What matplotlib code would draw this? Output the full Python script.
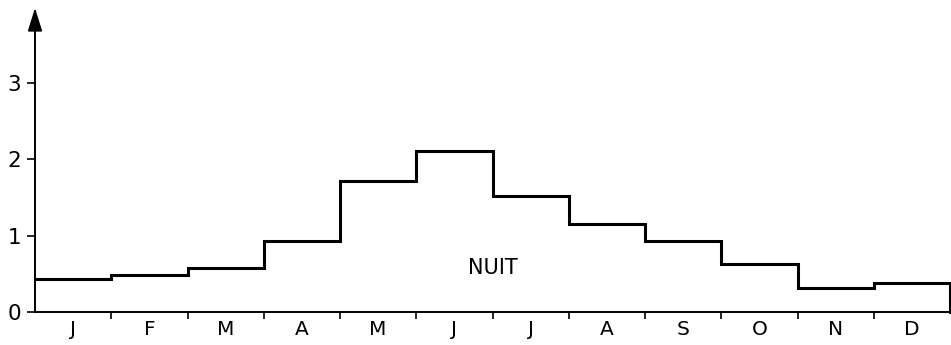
import matplotlib
matplotlib.use("Agg")
import matplotlib.pyplot as plt
import numpy as np

months = ["J", "F", "M", "A", "M", "J", "J", "A", "S", "O", "N", "D"]
values = [0.43, 0.48, 0.58, 0.93, 1.72, 2.11, 1.52, 1.15, 0.93, 0.63, 0.32, 0.38]
yticks = [0, 1, 2, 3]
label = "NUIT"

plt.rcParams["font.family"] = ["DejaVu Sans"]

fig = plt.figure(figsize=(9.51, 3.45), dpi=100)
ax = fig.add_axes([35 / 951, 1 - 312 / 345, 915 / 951, 312 / 345])

n = len(values)
edges = np.arange(n + 1)
# monthly step outline, closed down to zero at the right end
xs = np.repeat(edges, 2)[1:-1]
ys = np.repeat(values, 2)
xs = np.append(xs, n)
ys = np.append(ys, 0)
ax.plot(xs, ys, color="black", lw=2.2, solid_joinstyle="miter", clip_on=False)

ytop = 312 / 76.3
ax.set_xlim(0, n)
ax.set_ylim(0, ytop)

for s in ["top", "right"]:
    ax.spines[s].set_visible(False)
ax.spines["left"].set_linewidth(1.4)
ax.spines["left"].set_bounds(0, ytop - 12 / 76.3)
ax.spines["bottom"].set_linewidth(1.4)

# arrow at the top of the vertical axis
ax.annotate("", xy=(0, ytop - 8 / 76.3), xytext=(0, 3.6),
            arrowprops=dict(arrowstyle="-|>,head_length=0.8,head_width=0.25",
                            color="black", lw=1.2,
                            mutation_scale=18, shrinkA=0, shrinkB=0),
            annotation_clip=False)

ax.set_yticks(yticks)
ax.set_yticklabels([str(t) for t in yticks], fontsize=15.5)
ax.tick_params(axis="y", direction="out", length=6, width=1.2, pad=4)

ax.set_xticks(edges[1:-1])
ax.set_xticklabels([])
ax.set_xticks(edges[:-1] + 0.5, minor=True)
ax.set_xticklabels(months, minor=True, fontsize=14.5)
ax.tick_params(axis="x", which="major", direction="out", length=5, width=1.2)
ax.tick_params(axis="x", which="minor", length=0, pad=6)

ax.text(6.0, 0.58, label, ha="center", va="center", fontsize=15)

fig.savefig("out.png", dpi=100)
